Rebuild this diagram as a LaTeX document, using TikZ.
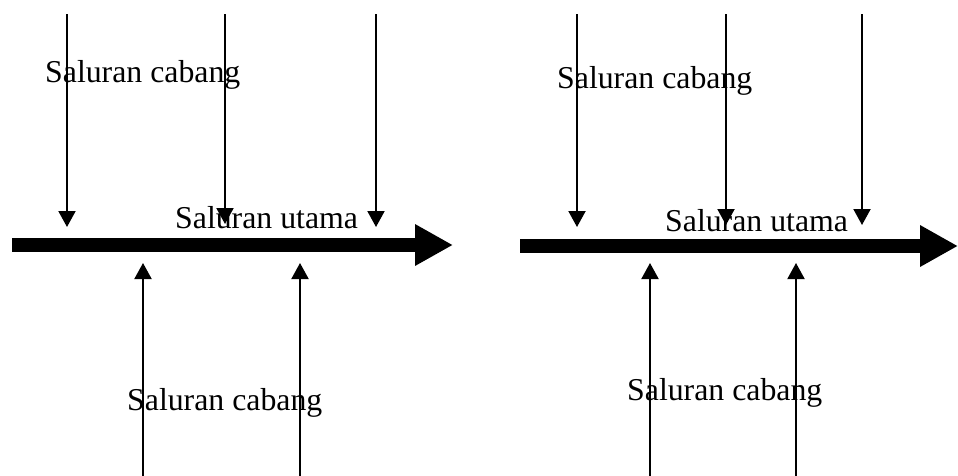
\documentclass[tikz,border=0pt]{standalone}
\usepackage{fontspec}
\setmainfont{Liberation Serif}
\usetikzlibrary{arrows.meta}
\begin{document}
\begin{tikzpicture}[x=1pt,y=-1pt,
  branch/.style={line width=2pt,-{Triangle[length=16pt,width=17pt]}},
  mainline/.style={line width=14pt,-{Triangle[length=38pt,width=39pt]}},
  lbl/.style={anchor=base west,inner sep=0pt,font=\fontsize{31.8}{36}\selectfont}]
\useasboundingbox (0,0) rectangle (958,475);
% left diagram
\coordinate (Lms) at (12,245);
\coordinate (Lme) at (453,245);
\draw[mainline] (Lms) -- (Lme);
\coordinate (La1) at (67,14);  \coordinate (Lb1) at (67,227);
\coordinate (La2) at (225,14); \coordinate (Lb2) at (225,224);
\coordinate (La3) at (376,14); \coordinate (Lb3) at (376,227);
\draw[branch] (La1) -- (Lb1);
\draw[branch] (La2) -- (Lb2);
\draw[branch] (La3) -- (Lb3);
\coordinate (Lc1) at (143,476); \coordinate (Ld1) at (143,263);
\coordinate (Lc2) at (300,476); \coordinate (Ld2) at (300,263);
\draw[branch] (Lc1) -- (Ld1);
\draw[branch] (Lc2) -- (Ld2);
\node[lbl] (Lt1) at (45,82) {Saluran cabang};
\node[lbl] (Lt2) at (175,228) {Saluran utama};
\node[lbl] (Lt3) at (127,410) {Saluran cabang};
% right diagram
\coordinate (Rms) at (520,246);
\coordinate (Rme) at (958,246);
\draw[mainline] (Rms) -- (Rme);
\coordinate (Ra1) at (577,14);  \coordinate (Rb1) at (577,227);
\coordinate (Ra2) at (726,14);  \coordinate (Rb2) at (726,225);
\coordinate (Ra3) at (862,14);  \coordinate (Rb3) at (862,225);
\draw[branch] (Ra1) -- (Rb1);
\draw[branch] (Ra2) -- (Rb2);
\draw[branch] (Ra3) -- (Rb3);
\coordinate (Rc1) at (650,476); \coordinate (Rd1) at (650,263);
\coordinate (Rc2) at (796,476); \coordinate (Rd2) at (796,263);
\draw[branch] (Rc1) -- (Rd1);
\draw[branch] (Rc2) -- (Rd2);
\node[lbl] (Rt1) at (557,88) {Saluran cabang};
\node[lbl] (Rt2) at (665,231) {Saluran utama};
\node[lbl] (Rt3) at (627,400) {Saluran cabang};
\end{tikzpicture}
\end{document}
